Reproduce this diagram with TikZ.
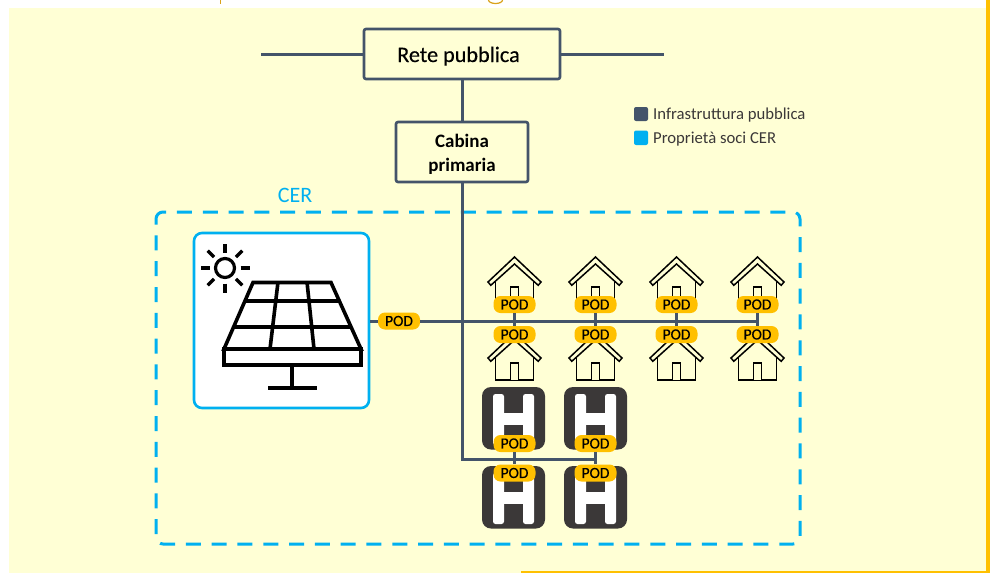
\documentclass[tikz,border=0pt]{standalone}
\usepackage{fontspec}
\setmainfont{Carlito}
\newfontfamily\medf[FakeBold=0.3]{Carlito}
\definecolor{bgy}{HTML}{FFFFD5}
\definecolor{slate}{HTML}{44546A}
\definecolor{cyanb}{HTML}{00B0F0}
\definecolor{podc}{HTML}{FFC000}
\definecolor{dk}{HTML}{3B3838}
\definecolor{gold}{HTML}{D9A21B}
\tikzset{
  boxn/.style={draw=slate,line width=2.6pt,rounded corners=2pt,fill=bgy,align=center,inner sep=0pt,text=black},
  wire/.style={draw=slate,line width=3pt},
  podn/.style={fill=podc,rounded corners=7pt,minimum width=42pt,minimum height=17pt,inner sep=0pt,font=\medf\fontsize{15.5}{16}\selectfont,text=black},
  ico/.style={draw=black,line width=3.6pt},
  hs/.style={draw=black,line width=1.5pt,fill=bgy,line join=miter},
}
\newcommand{\podt}{\raisebox{-0.7pt}{POD}}
\newcommand{\househere}[2]{%
  \begin{scope}[shift={(#1,#2)}]
    \draw[hs] (-19,0) -- (-19,22) -- (19,22) -- (19,0);
    \draw[hs] (-4,22) -- (-4,5) -- (4,5) -- (4,22);
    \draw[hs] (-26.5,0) -- (0,-25) -- (26.5,0) -- (23.7,3.3) -- (0,-18) -- (-23.7,3.3) -- cycle;
  \end{scope}}
\newcommand{\tilehere}[3]{% x top bottomofH
  \fill[dk,rounded corners=9pt] (#1-32,#2) rectangle (#1+31,#2+62.5);
  \fill[white,rounded corners=2.5pt] (#1-21,#2+7) rectangle (#1-10,#3);
  \fill[white,rounded corners=2.5pt] (#1+9,#2+7) rectangle (#1+20,#3);
  \fill[white] (#1-11,#2+26) rectangle (#1+10,#2+37.5);}
\begin{document}
\begin{tikzpicture}[x=1pt,y=-1pt]
\useasboundingbox (0,0) rectangle (990,573);
\fill[white] (0,0) rectangle (990,573);
\fill[bgy] (9,8) rectangle (986,573);
\fill[podc] (986,0) rectangle (990,573);
\fill[podc] (521,571) rectangle (990,573);
\fill[gold] (219.5,0) rectangle (220.7,4);
\draw[gold,line width=1.2pt] (488.5,0) arc[start angle=180,end angle=0,x radius=7,y radius=3.5];
% legend
\fill[slate,rounded corners=2pt] (634,107) rectangle (648,121);
\fill[cyanb,rounded corners=2pt] (634,130.5) rectangle (648,145);
\node[anchor=base west,inner sep=0pt,font=\fontsize{16.7}{17}\selectfont,text=dk] (lega) at (653,119) {Infrastruttura pubblica};
\node[anchor=base west,inner sep=0pt,font=\fontsize{16.7}{17}\selectfont,text=dk] (legb) at (653,143) {Proprietà soci CER};
% CER
\draw[cyanb,line width=3pt,dash pattern=on 15pt off 10.8pt,rounded corners=7pt] (156,225.1) -- (156,212) -- (800,212) -- (800,544) -- (156,544) -- cycle;
\node[text=cyanb,inner sep=0pt,font=\fontsize{22}{23}\selectfont] (cer) at (295,195) {CER};
% public grid
\coordinate (gl) at (261,54);
\coordinate (gr) at (664,54);
\draw[wire] (gl) -- (gr);
\node[boxn,minimum width=196pt,minimum height=50pt,font=\medf\fontsize{22.2}{23}\selectfont] (rete) at (462,54) {\hspace*{-7pt}\raisebox{-8pt}[0pt][0pt]{Rete pubblica}};
\node[boxn,minimum width=132pt,minimum height=60pt,font=\bfseries\fontsize{19}{24}\selectfont] (cab) at (462,152) {\raisebox{-7pt}[0pt][0pt]{Cabina}\\\raisebox{-7pt}[0pt][0pt]{primaria}};
\draw[wire] (rete.south) -- (cab.north);
% solar box
\node[draw=cyanb,fill=white,line width=2.6pt,rounded corners=8pt,minimum width=175pt,minimum height=175pt,inner sep=0pt] (solar) at (281.5,320.5) {};
\draw[ico,line width=3.2pt] (225,268) circle (9.5);
\foreach \a in {0,45,...,315}{\draw[ico,line cap=butt,line width=3.2pt] (225,268) ++(\a:15.5) -- ++(\a:9);}
\draw[ico,line join=miter] (253,282.5) -- (331,282.5) -- (361,349) -- (224,349) -- cycle;
\draw[ico] (244.5,301) -- (339.5,301);
\draw[ico] (233.5,327) -- (351,327);
\draw[ico] (278,282) -- (270,349);
\draw[ico] (307,282) -- (314,349);
\draw[ico] (224,349) rectangle (361,365);
\draw[ico] (292,365) -- (292,388);
\draw[ico] (268,388) -- (317,388);
% houses
\foreach \x in {514.5,595.5,676.5,757.5}{\househere{\x}{282}\househere{\x}{358}}
% tiles
\tilehere{514}{387}{445}
\tilehere{596}{387}{445}
\tilehere{514}{466}{524}
\tilehere{596}{466}{524}
% PODs
\node[podn] (ps) at (399,321) {\podt};
\foreach \n/\x in {a/514.5,b/595.5,c/676.5,d/757.5}{
  \node[podn] (u\n) at (\x,304.5) {\podt};
  \node[podn] (l\n) at (\x,334.5) {\podt};
  \draw[wire] (u\n.south) -- (l\n.north);
}
\foreach \n/\x in {e/514.5,f/595.5}{
  \node[podn] (u\n) at (\x,443.5) {\podt};
  \node[podn] (l\n) at (\x,473) {\podt};
  \draw[wire] (u\n.south) -- (l\n.north);
}
\draw[wire] (solar.east |- ps) -- (ps.west);
\draw[wire] (ps.east) -- (ud |- ps.east) coordinate (busend);
\draw[wire] (cab.south) -- (462,459) coordinate (bend) -- (uf |- bend);
\end{tikzpicture}
\end{document}
